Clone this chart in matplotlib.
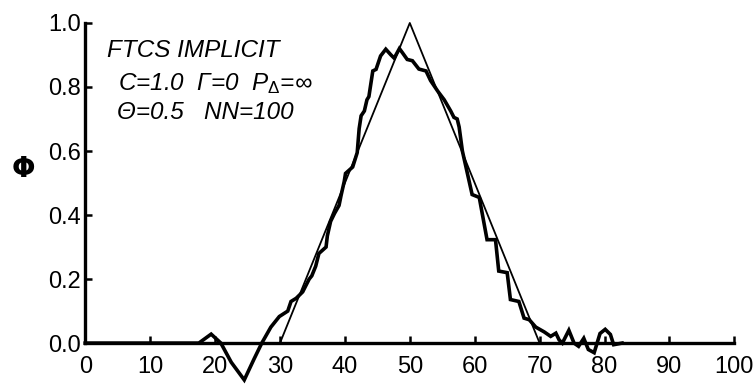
import matplotlib
matplotlib.use("Agg")
from matplotlib import pyplot as plt

plt.rcParams["font.family"] = ["Liberation Sans", "DejaVu Sans"]
plt.rcParams["mathtext.fontset"] = "custom"
plt.rcParams["mathtext.rm"] = "Liberation Sans"
plt.rcParams["mathtext.it"] = "Liberation Sans:italic"

# exact solution (thin triangle)
exact_x = [0, 30, 50, 70, 100]
exact_phi = [0.0, 0.0, 1.0, 0.0, 0.0]

# FTCS implicit numerical solution (thick line)
num_x = [0, 17.5, 19.4, 20.9, 22.5, 24.5, 26.0, 27.2, 28.6, 29.9, 31.2, 31.7,
         32.5, 33.5, 34.5, 34.9, 35.5, 36.0, 37.1, 37.3, 37.8, 38.4, 39.1,
         39.4, 39.9, 40.1, 41.2, 41.9, 42.2, 42.5, 43.0, 43.4, 43.7, 44.3,
         44.8, 45.5, 46.3, 47.1, 47.6, 48.4, 48.9, 49.6, 50.4, 51.4, 52.5,
         53.2, 54.3, 55.3, 56.3, 56.8, 57.3, 57.6, 58.1, 59.6, 60.7, 61.9,
         63.2, 63.7, 65.0, 65.5, 66.8, 67.6, 68.4, 69.4, 70.7, 71.7, 72.5,
         73.0, 73.5, 74.5, 75.3, 76.0, 76.8, 77.5, 78.4, 79.3, 80.1, 80.9,
         81.4, 82.7]
num_phi = [0.0, 0.0, 0.028, 0.0, -0.06, -0.115, -0.05, 0.0, 0.05, 0.083, 0.1,
           0.13, 0.14, 0.16, 0.2, 0.21, 0.24, 0.28, 0.30, 0.335, 0.38, 0.405,
           0.43, 0.46, 0.505, 0.53, 0.55, 0.595, 0.67, 0.71, 0.725, 0.76, 0.77,
           0.85, 0.855, 0.897, 0.918, 0.90, 0.89, 0.92, 0.906, 0.886, 0.882,
           0.856, 0.85, 0.82, 0.787, 0.76, 0.725, 0.705, 0.70, 0.675, 0.60,
           0.464, 0.455, 0.323, 0.323, 0.225, 0.22, 0.136, 0.13, 0.078, 0.073,
           0.05, 0.035, 0.021, 0.031, 0.01, 0.0, 0.04, 0.0, -0.01, 0.015,
           -0.02, -0.03, 0.03, 0.043, 0.027, -0.005, 0.0]

x_ticks = [0, 10, 20, 30, 40, 50, 60, 70, 80, 90, 100]
y_ticks = [0.0, 0.2, 0.4, 0.6, 0.8, 1.0]

fig = plt.figure(figsize=(7.54, 3.89), dpi=100)
ax = fig.add_axes([0.113, 0.118, 0.861, 0.823])

ax.plot(exact_x, exact_phi, color="black", lw=1.3, clip_on=False)
ax.plot(num_x, num_phi, color="black", lw=2.6, clip_on=False,
        solid_joinstyle="miter")

ax.set_xlim(0, 100)
ax.set_ylim(0, 1.0)
ax.set_xticks(x_ticks)
ax.set_yticks(y_ticks)
ax.set_yticklabels([f"{v:.1f}" for v in y_ticks])
for side in ["top", "right"]:
    ax.spines[side].set_visible(False)
for side in ["left", "bottom"]:
    ax.spines[side].set_linewidth(2.4)
ax.tick_params(direction="in", length=5, width=1.8, labelsize=17)
ax.tick_params(axis="x", pad=9)
ax.tick_params(axis="y", pad=3)

ax.set_ylabel("Φ", rotation=0, fontsize=20, fontweight="bold",
              family="DejaVu Sans")
ax.yaxis.set_label_coords(-0.095, 0.5)

ax.text(0.034, 0.915, "FTCS IMPLICIT", transform=ax.transAxes,
        fontsize=17.5, style="italic", va="center")
ax.text(0.051, 0.81, r"C=1.0  Γ=0  $P_{\Delta}$=∞", transform=ax.transAxes,
        fontsize=17.5, style="italic", va="center")
ax.text(0.049, 0.72, "Θ=0.5   NN=100", transform=ax.transAxes,
        fontsize=17.5, style="italic", va="center")

fig.savefig("out.png", dpi=100)
